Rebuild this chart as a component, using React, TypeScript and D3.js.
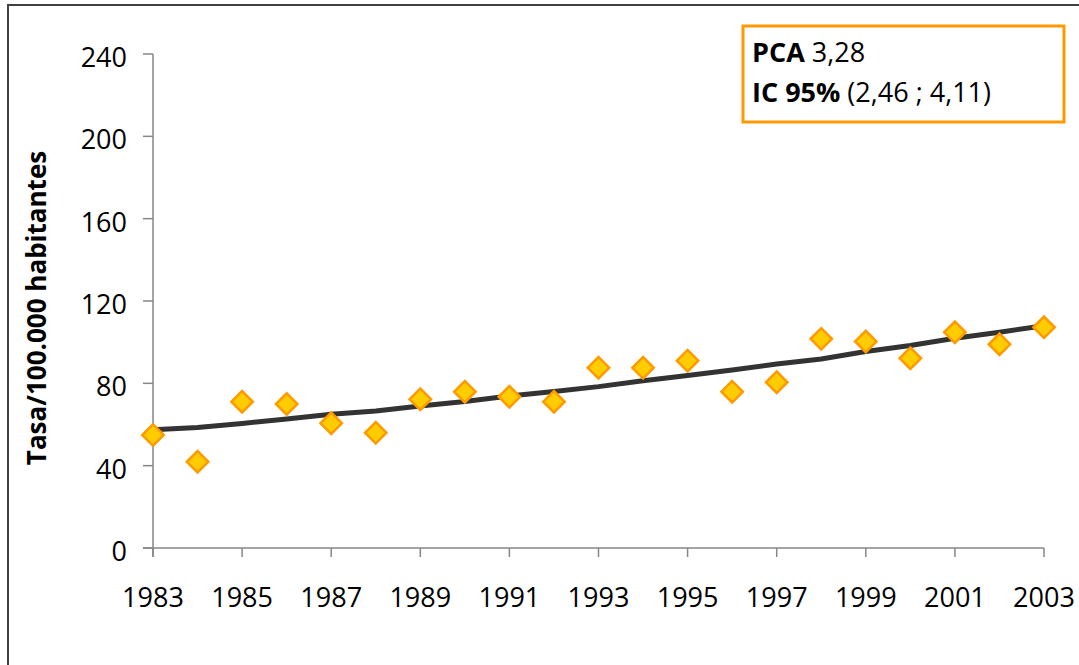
import React, { useEffect, useRef } from 'react';
import * as d3 from 'd3';

const years = [1983, 1984, 1985, 1986, 1987, 1988, 1989, 1990, 1991, 1992, 1993, 1994, 1995, 1996, 1997, 1998, 1999, 2000, 2001, 2002, 2003];
// observed rates per 100.000
const rates = [54.9, 41.9, 71.1, 70, 60.6, 56, 72.3, 75.9, 73.5, 71.1, 87.6, 87.6, 91, 75.9, 80.5, 101.6, 100.3, 92.2, 104.8, 99, 107.2];
// fitted trend line
const trend = [57.5, 58.5, 60.5, 62.7, 65, 66.6, 69, 71.2, 73.8, 76, 78.4, 81.3, 83.8, 86.5, 89.4, 91.8, 95.5, 98.4, 101.9, 104.8, 108];
const yTicks = [0, 40, 80, 120, 160, 200, 240];
const xTicks = [1983, 1985, 1987, 1989, 1991, 1993, 1995, 1997, 1999, 2001, 2003];
const yLabel = 'Tasa/100.000 habitantes';

const W = 1079;
const H = 665;
const FONT = '"Open Sans", sans-serif';

export default function App() {
  const ref = useRef<SVGSVGElement>(null);

  useEffect(() => {
    const svg = d3.select(ref.current);
    svg.selectAll('*').remove();

    const x = d3.scaleLinear().domain([1983, 2003]).range([153, 1044]);
    const y = d3.scaleLinear().domain([0, 240]).range([548, 54]);

    // outer frame (only top and left edges are visible)
    svg.append('rect')
      .attr('x', 8).attr('y', 5)
      .attr('width', W + 20).attr('height', H + 20)
      .attr('fill', 'white')
      .attr('stroke', '#404040')
      .attr('stroke-width', 2);

    const axis = svg.append('g').attr('stroke', '#868686').attr('stroke-width', 1.5);
    axis.append('line')
      .attr('x1', x(1983)).attr('x2', x(1983))
      .attr('y1', y(240)).attr('y2', y(0) + 9);
    axis.append('line')
      .attr('x1', x(1983) - 10).attr('x2', x(2003))
      .attr('y1', y(0)).attr('y2', y(0));
    axis.selectAll('.yt').data(yTicks).enter().append('line')
      .attr('x1', x(1983) - 10).attr('x2', x(1983))
      .attr('y1', d => y(d)).attr('y2', d => y(d));
    axis.selectAll('.xt').data(xTicks).enter().append('line')
      .attr('x1', d => x(d)).attr('x2', d => x(d))
      .attr('y1', y(0)).attr('y2', y(0) + 9);

    svg.selectAll('.ylab').data(yTicks).enter().append('text')
      .attr('x', 127).attr('y', d => y(d) + 13)
      .attr('text-anchor', 'end')
      .attr('font-family', FONT).attr('font-size', 27)
      .attr('fill', '#000')
      .text(d => d);

    svg.selectAll('.xlab').data(xTicks).enter().append('text')
      .attr('x', d => x(d)).attr('y', 607)
      .attr('text-anchor', 'middle')
      .attr('font-family', FONT).attr('font-size', 27)
      .attr('fill', '#000')
      .text(d => d);

    svg.append('text')
      .attr('transform', `translate(46, 308) rotate(-90)`)
      .attr('text-anchor', 'middle')
      .attr('font-family', FONT).attr('font-size', 26).attr('font-weight', 'bold')
      .attr('fill', '#000')
      .text(yLabel);

    const line = d3.line<number>()
      .x((d, i) => x(years[i]))
      .y(d => y(d));
    svg.append('path')
      .datum(trend)
      .attr('d', line)
      .attr('fill', 'none')
      .attr('stroke', '#333333')
      .attr('stroke-width', 5);

    const diamond = d3.symbol().type(d3.symbolSquare).size(230);
    svg.selectAll('.pt').data(rates).enter().append('path')
      .attr('d', diamond)
      .attr('transform', (d, i) => `translate(${x(years[i])}, ${y(d)}) rotate(45)`)
      .attr('fill', '#FFCC00')
      .attr('stroke', '#FF9900')
      .attr('stroke-width', 2.5);

    // PCA box
    svg.append('rect')
      .attr('x', 743).attr('y', 26)
      .attr('width', 321).attr('height', 96)
      .attr('fill', 'white')
      .attr('stroke', '#FF9900')
      .attr('stroke-width', 3);

    const t1 = svg.append('text')
      .attr('x', 752).attr('y', 62)
      .attr('font-family', FONT).attr('font-size', 27).attr('fill', '#000');
    t1.append('tspan').attr('font-weight', 'bold').text('PCA');
    t1.append('tspan').text(' 3,28');

    const t2 = svg.append('text')
      .attr('x', 752).attr('y', 102)
      .attr('font-family', FONT).attr('font-size', 27).attr('fill', '#000');
    t2.append('tspan').attr('font-weight', 'bold').text('IC 95%');
    t2.append('tspan').text(' (2,46 ; 4,11)');
  }, []);

  return (
    <svg
      ref={ref}
      width={W}
      height={H}
      style={{ position: 'absolute', left: 0, top: 0, background: 'white' }}
    />
  );
}
